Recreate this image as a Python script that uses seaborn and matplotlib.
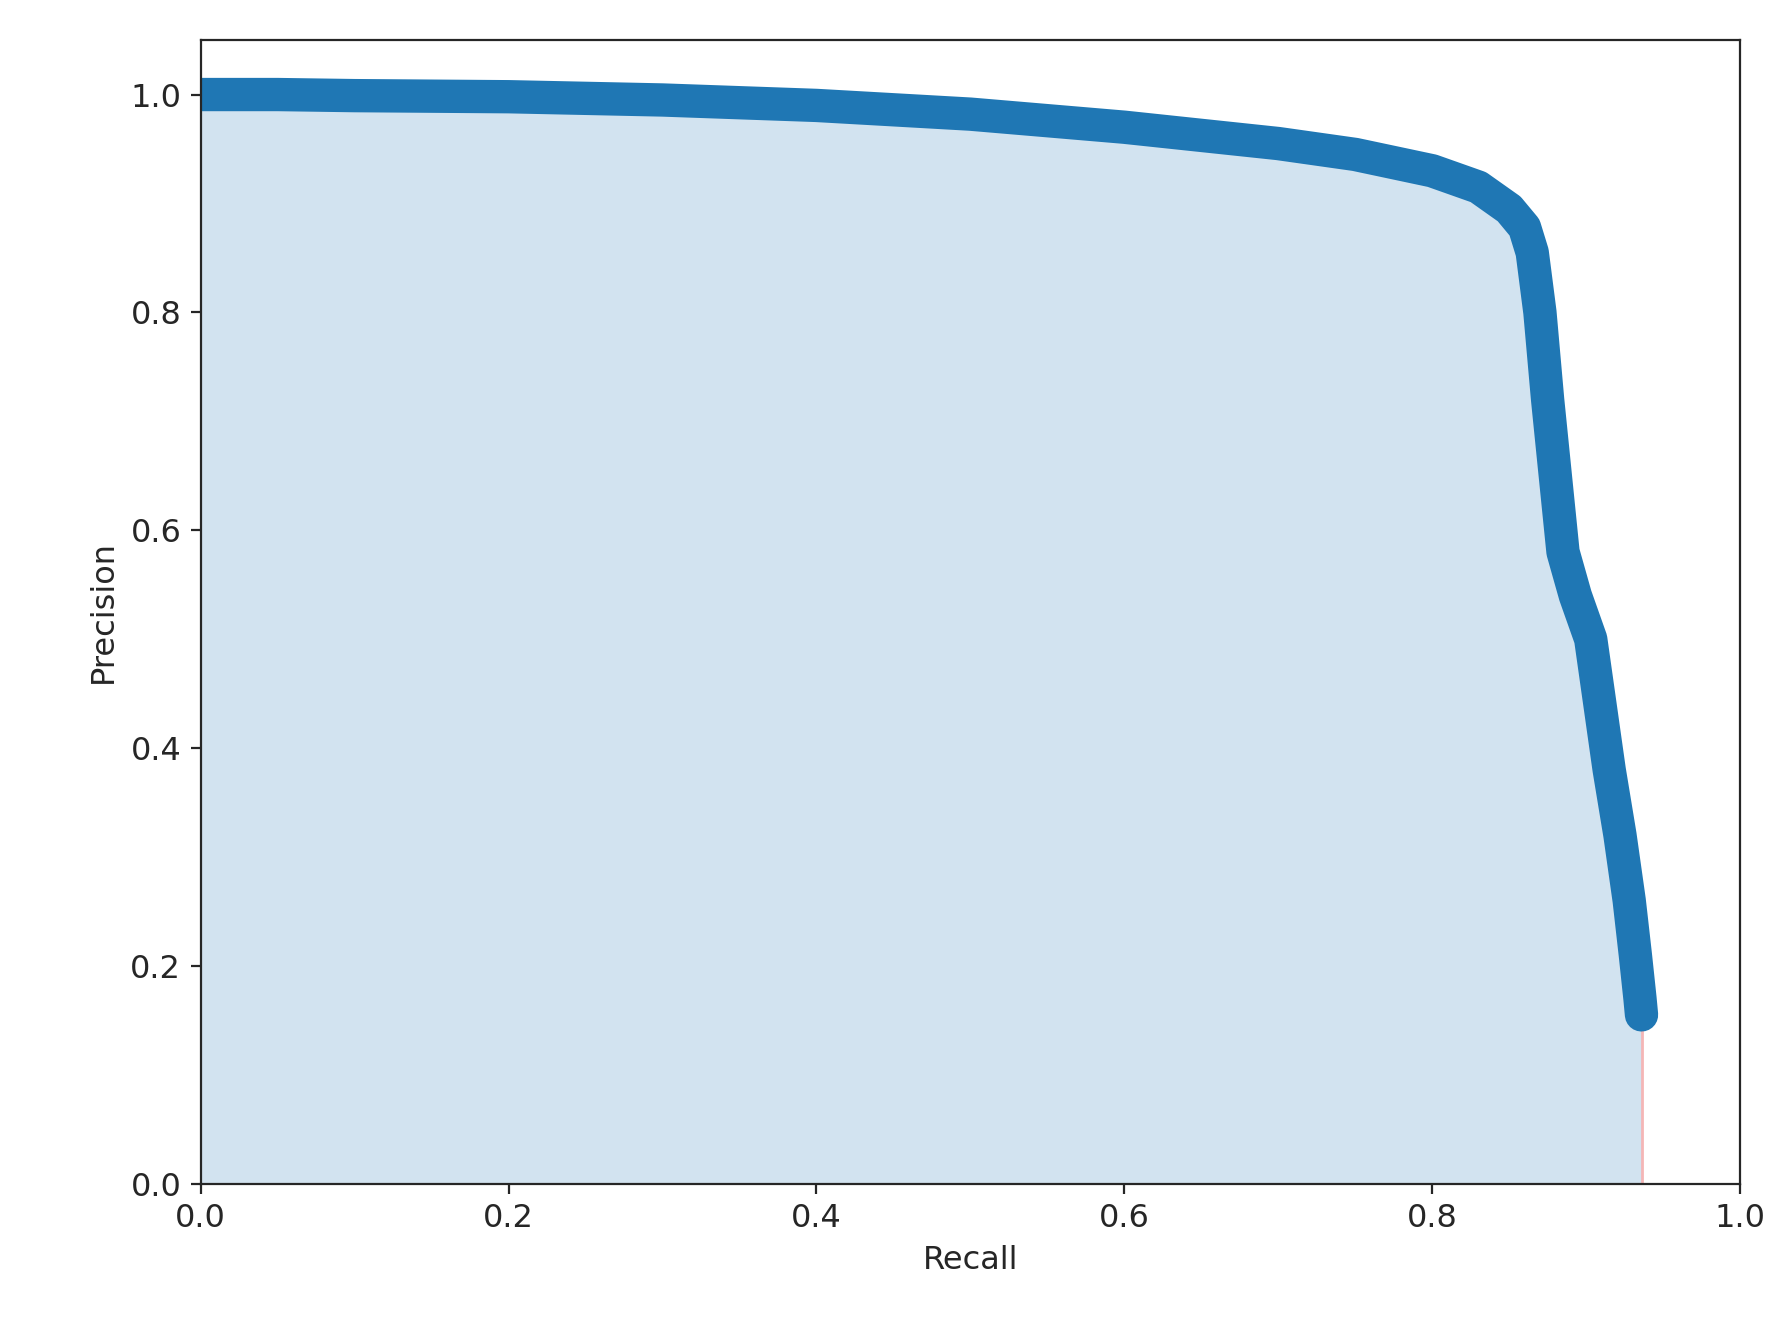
import matplotlib
matplotlib.use("Agg")
import matplotlib.pyplot as plt
import seaborn as sns
import pandas as pd

recall = [0.0, 0.05, 0.1, 0.2, 0.3, 0.4, 0.5, 0.6, 0.7, 0.75, 0.8, 0.83, 0.85, 0.86, 0.865,
          0.87, 0.875, 0.88, 0.885, 0.893, 0.903, 0.908, 0.915, 0.922, 0.928, 0.932, 0.935, 0.936]
precision = [1.0, 1.0, 0.999, 0.998, 0.995, 0.99, 0.982, 0.97, 0.955, 0.945, 0.93, 0.915, 0.895,
             0.878, 0.855, 0.80, 0.72, 0.65, 0.58, 0.54, 0.50, 0.45, 0.38, 0.32, 0.26, 0.21, 0.17, 0.155]

sns.set_style("ticks")
plt.rcParams['font.family'] = ['DejaVu Sans']
fig = plt.figure(figsize=(8.96, 6.68), dpi=200)
ax = fig.add_axes([0.112, 0.114, 0.859, 0.856])
df = pd.DataFrame({"Recall": recall, "Precision": precision})
ax.fill_between(recall, precision, 0, color="#1f77b4", alpha=0.2, linewidth=0)
ax.vlines(recall[-1], 0, precision[-1], color="#f4b6b6", linewidth=1)
sns.lineplot(data=df, x="Recall", y="Precision", ax=ax, color="#1f77b4", linewidth=12,
             solid_capstyle="round", sort=False)
ax.set_xlim(0, 1)
ax.set_ylim(0, 1.05)
ax.set_xticks([0, 0.2, 0.4, 0.6, 0.8, 1.0])
ax.set_yticks([0, 0.2, 0.4, 0.6, 0.8, 1.0])
ax.tick_params(labelsize=11.5)
ax.set_xlabel("Recall", fontsize=11.5)
ax.set_ylabel("Precision", fontsize=11.5)
fig.savefig("out.png", dpi=200)
